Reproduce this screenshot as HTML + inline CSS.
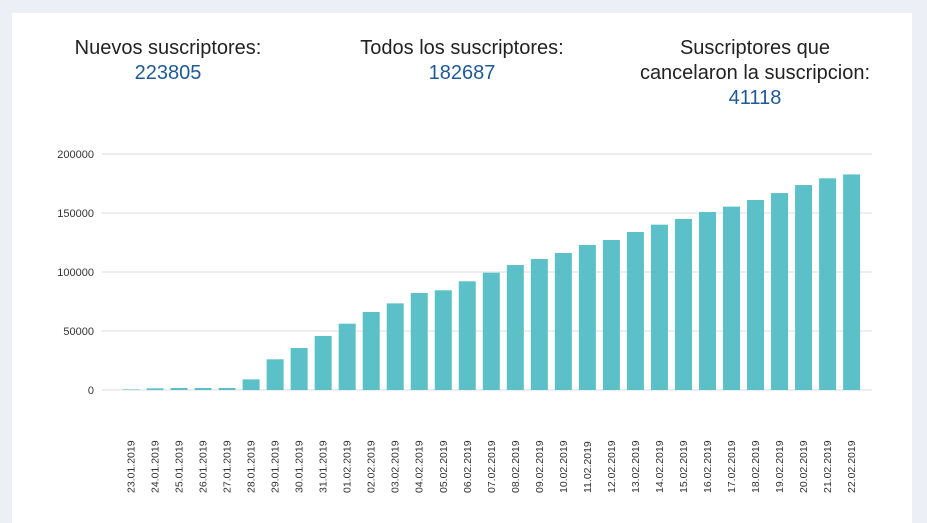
<!DOCTYPE html>
<html><head><meta charset="utf-8"><style>
body{margin:0;width:927px;height:515px;background:#eceff5;font-family:"Liberation Sans",sans-serif;overflow:hidden}
#card{position:absolute;left:12px;top:13px;width:900px;height:510px;background:#fff}
.stat{position:absolute;top:36px;text-align:center;font-size:20px;line-height:25px;color:#222;font-weight:300}
.stat .v{color:#1f5a96}
</style></head><body>
<div id="card"></div>
<div class="stat" style="left:48px;width:240px">Nuevos suscriptores:<br><span class="v">223805</span></div>
<div class="stat" style="left:322px;width:280px">Todos los suscriptores:<br><span class="v">182687</span></div>
<div class="stat" style="left:615px;width:280px">Suscriptores que<br>cancelaron la suscripcion:<br><span class="v">41118</span></div>
<svg id="chart" width="927" height="515" style="position:absolute;left:0;top:0"></svg>
<script>
const categories=["23.01.2019","24.01.2019","25.01.2019","26.01.2019","27.01.2019","28.01.2019","29.01.2019","30.01.2019","31.01.2019","01.02.2019","02.02.2019","03.02.2019","04.02.2019","05.02.2019","06.02.2019","07.02.2019","08.02.2019","09.02.2019","10.02.2019","11.02.2019","12.02.2019","13.02.2019","14.02.2019","15.02.2019","16.02.2019","17.02.2019","18.02.2019","19.02.2019","20.02.2019","21.02.2019","22.02.2019"];
const values=[500,1400,1700,1700,1700,9000,26000,35600,45800,56200,66100,73400,82200,84500,92100,99400,105900,111000,116100,122900,127100,133900,140100,144900,150800,155400,161000,166900,173700,179400,182687];
const yTicks=[0,50000,100000,150000,200000];
const NS="http://www.w3.org/2000/svg",svg=document.getElementById('chart');
const y0=390,y1=154,ymax=200000,x0=118,step=24.02,bw=17;
const yS=v=>y0-(v/ymax)*(y0-y1);
const xS=i=>x0+step*i;
function mk(t,a){const e=document.createElementNS(NS,t);for(const k in a)e.setAttribute(k,a[k]);svg.appendChild(e);return e;}
yTicks.forEach(t=>{
 const g=mk('line',{x1:102,x2:872,y1:yS(t),y2:yS(t),stroke:'#dcdcdc','stroke-width':1});
 
 
 const l=mk('text',{x:94,y:yS(t)+4,'text-anchor':'end','font-size':11,fill:'#333','font-family':'Liberation Sans, sans-serif'});
 l.textContent=t;
 
 
});
values.forEach((v,i)=>{
 const b=mk('rect',{x:xS(i)+12.5-bw/2+0.5,y:yS(v),width:bw,height:y0-yS(v),fill:'#5bc0c8'});
 
 
 const cx=xS(i)+12.5;
 const t=mk('text',{x:0,y:0,transform:`translate(${cx+4},493) rotate(-90)`,'font-size':10.5,fill:'#333','font-family':'Liberation Sans, sans-serif'});
 t.textContent=categories[i];
 
 
});
</script>
</body></html>
